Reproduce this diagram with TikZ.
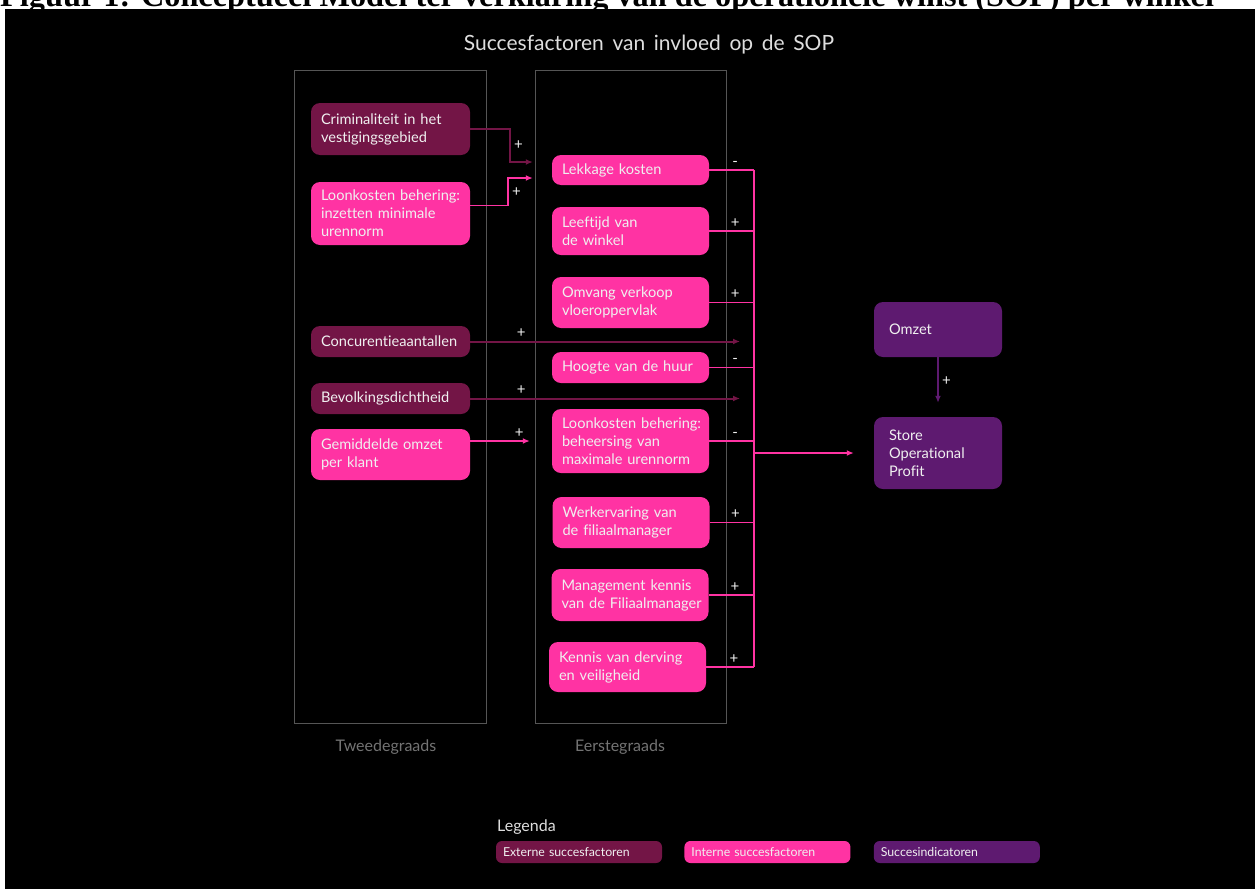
\documentclass[tikz,border=0pt]{standalone}
\usepackage{fontspec}
\setmainfont{Lato}[WordSpace=1.6, Ligatures=NoCommon]
\newfontfamily\capfont{Liberation Serif}
\usepackage{tikz}
\usetikzlibrary{arrows.meta,positioning,calc}
\definecolor{extmaroon}{RGB}{115,21,70}
\definecolor{intpink}{RGB}{255,51,163}
\definecolor{indpurple}{RGB}{94,26,112}
\definecolor{framegray}{RGB}{85,85,85}
\definecolor{labelgray}{RGB}{115,115,115}
\definecolor{softwhite}{RGB}{240,240,240}
\definecolor{titlegray}{RGB}{222,222,222}

\begin{document}
\begin{tikzpicture}[x=1pt, y=-1pt,
      factor/.style={rounded corners=9pt, inner xsep=10pt, inner ysep=0pt, align=left,
                  text=softwhite, font=\fontsize{14.6}{18}\selectfont,
                  execute at begin node={\hyphenpenalty 10000\relax}},
      extbox/.style={factor, fill=extmaroon, text width=139pt},
      intbox/.style={factor, fill=intpink, text width=139pt},
      intrbox/.style={factor, fill=intpink, text width=137pt},
      indbox/.style={factor, fill=indpurple, inner xsep=15pt, text width=98pt},
      legbox/.style={rounded corners=6pt, inner xsep=7pt, inner ysep=0pt, align=left,
                  minimum height=22pt, text width=152pt, text=softwhite,
                  font=\fontsize{12.3}{13}\selectfont},
      frame/.style={draw=framegray, line width=1pt},
      collabel/.style={text=labelgray, font=\fontsize{16}{18}\selectfont, inner sep=0pt},
      sign/.style={text=softwhite, font=\fontsize{15}{15}\selectfont, inner sep=3pt},
      intline/.style={line width=1.8pt, draw=intpink},
      intarrow/.style={intline, -{Latex[length=7pt,width=6pt]}},
      extarrow/.style={line width=2pt, draw=extmaroon, -{Latex[length=7pt,width=6pt]}},
      indarrow/.style={line width=2pt, draw=indpurple, -{Latex[length=7pt,width=6pt]}}
    ]
      \useasboundingbox (0,0) rectangle (1255,889);
      \clip (0,0) rectangle (1255,889);
      \fill[white] (0,0) rectangle (1255,889);

      % --- caption, cut off by the panel ---
      \node[anchor=base west, inner sep=0pt, font=\capfont\fontsize{32.3}{34}\selectfont\bfseries]
        (caption) at (0,6.5) {Figuur 1: Conceptueel Model ter verklaring van de operationele winst (SOP) per winkel};
      \fill[black] (5,9) rectangle (1255,889);

      \node[text=titlegray, font=\fontsize{21}{24}\selectfont] (title) at (649,45) {Succesfactoren van invloed op de SOP};

      % --- the two columns ---
      \node[frame, minimum width=192pt, minimum height=653pt] (tweede) at (390,396.5) {};
      \node[frame, minimum width=191pt, minimum height=653pt] (eerste) at (630.5,396.5) {};
      \node[collabel] (tweedelbl) at (386,747) {Tweedegraads};
      \node[collabel] (eerstelbl) at (620,747) {Eerstegraads};

      % --- second order factors ---
      \node[extbox, minimum height=52pt] (crim)    at (390.5,129)   {Criminaliteit in het\\vestigingsgebied};
      \node[intbox, minimum height=63pt] (loonmin) at (390.5,213.5) {\mbox{Loonkosten behering:}\\inzetten minimale\\urennorm};
      \node[extbox, minimum height=31pt] (conc)    at (390.5,341.5) {Concurentieaantallen};
      \node[extbox, minimum height=31pt] (bevolk)  at (390.5,398.5) {Bevolkingsdichtheid};
      \node[intbox, minimum height=51pt] (gem)     at (390.5,454.5) {Gemiddelde omzet\\per klant};

      % --- first order factors ---
      \node[intrbox, minimum height=30pt] (lekkage)  at (630.5,170)   {Lekkage kosten};
      \node[intrbox, minimum height=48pt] (leeftijd) at (630.5,231)   {Leeftijd van\\de winkel};
      \node[intrbox, minimum height=51pt] (omvang)   at (630.5,302.5) {Omvang verkoop\\vloeroppervlak};
      \node[intrbox, minimum height=31pt] (hoogte)   at (630.5,367.5) {Hoogte van de huur};
      \node[intrbox, minimum height=64pt] (loonmax)  at (630.5,441)   {\mbox{Loonkosten behering:}\\beheersing van\\maximale urennorm};
      \node[intrbox, minimum height=51pt] (werk)     at (631,522.5)   {Werkervaring van\\de filiaalmanager};
      \node[intrbox, minimum height=52pt] (mgmt)     at (630,595)     {Management kennis\\\mbox{van de Filiaalmanager}};
      \node[intrbox, minimum height=50pt] (kennis)   at (627.5,667)   {Kennis van derving\\en veiligheid};

      % --- indicators ---
      \node[indbox, minimum height=55pt] (omzet) at (938,329.5) {Omzet};
      \node[indbox, minimum height=72pt] (sop)   at (938,453)   {Store\\Operational\\Profit};

      % --- second order into first order ---
      \draw[extarrow] (crim.east) -- ++(40,0) |- node[sign, right, pos=0.25] {+} ($(lekkage.west)+(-19,-8)$);
      \draw[intarrow] ([yshift=8pt]loonmin.east) -- ++(38,0) |- node[sign, right, pos=0.25] {+} ($(lekkage.west)+(-19,8)$);
      \draw[extarrow, shorten >=14pt] (conc.east) -- node[sign, above, pos=0.18] {+} (conc.east -| 754,0);
      \draw[extarrow, shorten >=14pt] (bevolk.east) -- node[sign, above, pos=0.18] {+} (bevolk.east -| 754,0);
      \draw[intarrow, shorten >=22pt] (gem.east |- loonmax) -- node[sign, above, pos=0.6] {+} (loonmax.west);

      % --- first order collected on one bus into the SOP ---
      \coordinate (bus) at (754,455);
      \foreach \n/\s in {lekkage/-, leeftijd/+, omvang/+, hoogte/-, loonmax/-, werk/+, mgmt/+, kennis/+}
        \draw[intline] (\n.east) -- node[sign, above, pos=0.58] {\s} (\n.east -| bus);
      \draw[intline] (lekkage.east -| bus) -- (kennis.east -| bus);
      \draw[intarrow, shorten >=20pt] (sop.west -| bus) -- (sop.west);

      \draw[indarrow, shorten >=14pt] (omzet) -- node[sign, right, pos=0.4] {+} (sop);

      % --- legend ---
      \node[anchor=base west, inner sep=0pt, text=titlegray, font=\fontsize{16}{17}\selectfont] (legenda) at (497,831) {Legenda};
      \node[legbox, fill=extmaroon] (extleg) at (579,852) {Externe succesfactoren};
      \node[legbox, fill=intpink, right=22pt of extleg] (intleg) {Interne succesfactoren};
      \node[legbox, fill=indpurple, right=23pt of intleg] (indleg) {Succesindicatoren};
    \end{tikzpicture}
\end{document}
